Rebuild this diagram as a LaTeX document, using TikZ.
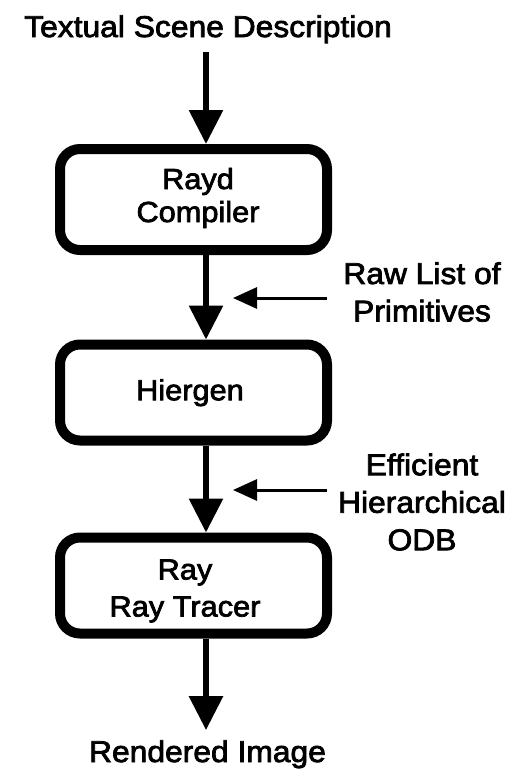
\documentclass[tikz,border=0pt]{standalone}
\usepackage{fontspec}
\setmainfont{Liberation Sans}[FakeStretch=1.06,FakeBold=2.5]
\usetikzlibrary{arrows.meta}
\tikzset{
  flowbox/.style={draw=black, line width=10pt, rounded corners=20pt,
    minimum width=267pt, inner sep=0pt},
  boxtext/.style={inner sep=0pt, align=center, font=\fontsize{29}{33}\selectfont},
  caption/.style={inner sep=0pt, align=center, font=\fontsize{30}{37.5}\selectfont},
  mainflow/.style={line width=6pt, -{Triangle[length=34pt,width=33pt]}},
  sideflow/.style={line width=3pt, -{Triangle[length=24pt,width=21pt]}},
}
\begin{document}
\begin{tikzpicture}[x=1pt,y=-1pt]
  \fill[white] (0,0) rectangle (516,772);
  \useasboundingbox (0,0) rectangle (516,772);
  % vertical axis of the data flow
  \coordinate (axis) at (206,0);

  % input and output
  \node[caption, anchor=base] (title) at (208,37) {Textual Scene Description};
  \node[caption, anchor=base] (out) at (207.5,762) {Rendered Image};

  % processing stages
  \node[flowbox, minimum height=101pt] (b1) at (193.5,199.5) {};
  \node[boxtext] (b1t) at (198,198) {Rayd\\Compiler};
  \node[flowbox, minimum height=96pt] (b2) at (193.5,392.5) {};
  \node[boxtext] (b2t) at (190,392.7) {Hiergen};
  \node[flowbox, minimum height=96pt] (b3) at (193.5,585.5) {};
  \node[boxtext, font=\fontsize{29}{37}\selectfont] (b3t) at (185,591) {Ray\\Ray Tracer};

  % intermediate data labels
  \node[caption] (raw) at (422,292) {Raw List of\\Primitives};
  \node[caption] (odb) at (422,502) {Efficient\\Hierarchical\\ODB};
  \coordinate (raws) at (327,298);
  \coordinate (rawe) at (233,298);
  \coordinate (odbs) at (327,490);
  \coordinate (odbe) at (233,490);

  % main flow
  \draw[mainflow] ([yshift=-9pt]title.south -| axis) -- (axis |- b1.north);
  \draw[mainflow] (axis |- b1.south) -- (axis |- b2.north);
  \draw[mainflow] (axis |- b2.south) -- (axis |- b3.north);
  \draw[mainflow] (axis |- b3.south) -- ([yshift=10pt]out.north -| axis);

  % data pointers
  \draw[sideflow] (raws) -- (rawe);
  \draw[sideflow] (odbs) -- (odbe);
\end{tikzpicture}
\end{document}
